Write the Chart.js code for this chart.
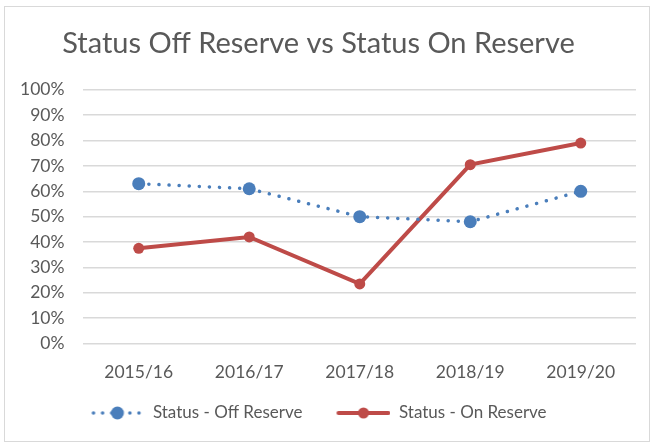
<!DOCTYPE html>
<html lang="en">
<head>
    <meta charset="UTF-8">
    <title>Status Off Reserve vs Status On Reserve</title>
    <script src="https://cdn.jsdelivr.net/npm/chart.js"></script>
    <style>
        html, body { margin: 0; padding: 0; background: #fff; }
        #frame {
            position: absolute;
            left: 4px; top: 6px;
            width: 646px; height: 436px;
            border: 1px solid #d9d9d9;
            box-sizing: border-box;
        }
        #chartBox {
            position: absolute;
            left: -4px; top: -6px;
            width: 655px; height: 445px;
        }
    </style>
</head>
<body>
<div id="frame">
    <div id="chartBox"><canvas id="reserveChart"></canvas></div>
</div>

<script>
    const years = ['2015/16', '2016/17', '2017/18', '2018/19', '2019/20'];
    const offReserve = [0.63, 0.61, 0.50, 0.48, 0.60];
    const onReserve = [0.375, 0.42, 0.235, 0.705, 0.79];
    const yTicks = [0, 0.1, 0.2, 0.3, 0.4, 0.5, 0.6, 0.7, 0.8, 0.9, 1];

    const blue = '#4a7ebb';
    const red = '#be4b48';
    const grey = '#595959';

    // line + marker sample for the legend (excel style), with some empty room on the left
    const GAP = 22;
    function legendSample(color, dotted) {
        const c = document.createElement('canvas');
        c.width = 54 + GAP; c.height = 14;
        const ctx = c.getContext('2d');
        ctx.strokeStyle = color;
        ctx.fillStyle = color;
        ctx.lineCap = 'round';
        if (dotted) {
            ctx.lineWidth = 3.5;
            ctx.setLineDash([0.1, 9]);
        } else {
            ctx.lineWidth = 4;
        }
        ctx.beginPath();
        ctx.moveTo(GAP + (dotted ? 3 : 2), 7);
        ctx.lineTo(GAP + (dotted ? 51 : 52), 7);
        ctx.stroke();
        ctx.beginPath();
        ctx.arc(GAP + 27, 7, dotted ? 6.5 : 5.5, 0, Math.PI * 2);
        ctx.fill();
        return c;
    }

    // pull the legend back left a bit, the empty room above pushes it right
    const legendShift = {
        id: 'legendShift',
        afterLayout(chart) {
            if (chart.legend) {
                chart.legend.left -= GAP / 2;
                chart.legend.right -= GAP / 2;
            }
        }
    };

    new Chart(document.getElementById('reserveChart'), {
        type: 'line',
        data: {
            labels: years,
            datasets: [{
                label: 'Status - Off Reserve',
                data: offReserve,
                borderColor: blue,
                backgroundColor: blue,
                borderWidth: 3.5,
                borderDash: [0.1, 10],
                borderCapStyle: 'round',
                pointRadius: 6.5,
                pointHoverRadius: 6.5,
                pointBorderWidth: 0,
                legendImg: legendSample(blue, true)
            }, {
                label: 'Status - On Reserve',
                data: onReserve,
                borderColor: red,
                backgroundColor: red,
                borderWidth: 4,
                pointRadius: 5.5,
                pointHoverRadius: 5.5,
                pointBorderWidth: 0,
                legendImg: legendSample(red, false)
            }]
        },
        options: {
            responsive: true,
            maintainAspectRatio: false,
            animation: false,
            layout: { padding: { left: 0, right: 20, top: 15, bottom: 14.5 } },
            plugins: {
                title: {
                    display: true,
                    text: 'Status Off Reserve vs Status On Reserve',
                    color: grey,
                    font: { family: 'Lato', size: 29, weight: 'normal' },
                    padding: { top: 10, bottom: 29 }
                },
                legend: {
                    position: 'bottom',
                    labels: {
                        color: grey,
                        font: { family: 'Lato', size: 17 },
                        usePointStyle: true,
                        pointStyleWidth: 54 + GAP,
                        padding: 12,
                        generateLabels: chart => chart.data.datasets.map((ds, i) => ({
                            text: ds.label,
                            pointStyle: ds.legendImg,
                            fontColor: grey,
                            datasetIndex: i,
                            lineWidth: 0
                        }))
                    }
                },
                tooltip: { enabled: false }
            },
            scales: {
                x: {
                    offset: true,
                    grid: { display: false },
                    border: { display: false },
                    ticks: { color: grey, font: { family: 'Lato', size: 17.5 }, padding: 10 }
                },
                y: {
                    min: 0,
                    max: 1,
                    afterBuildTicks: axis => { axis.ticks = yTicks.map(v => ({ value: v })); },
                    grid: { color: '#d9d9d9', lineWidth: 1.5, drawTicks: false },
                    border: { display: false },
                    ticks: {
                        color: grey,
                        autoSkip: false,
                        font: { family: 'Lato', size: 17.5 },
                        padding: 19,
                        callback: v => Math.round(v * 100) + '%'
                    }
                }
            }
        },
        plugins: [legendShift]
    });
</script>
</body>
</html>
